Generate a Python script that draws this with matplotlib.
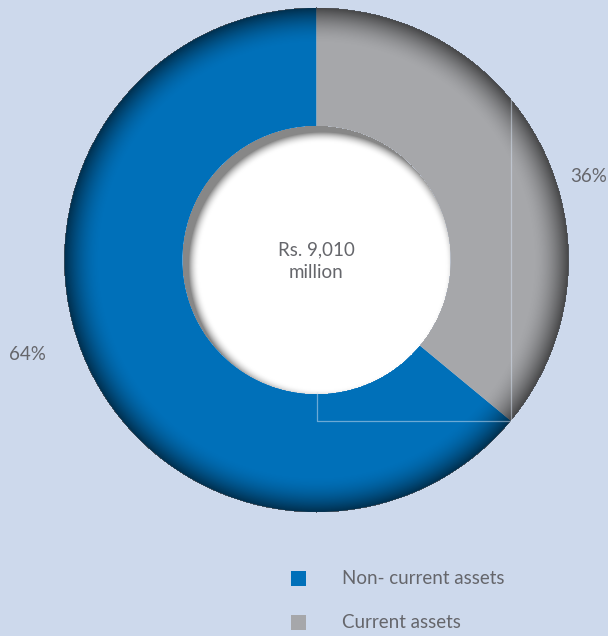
import numpy as np
import matplotlib
matplotlib.use("Agg")
import matplotlib.pyplot as plt
from matplotlib.patches import Rectangle

labels = ["Non- current assets", "Current assets"]
values = [64, 36]
colors = ["#0070b9", "#a6a7aa"]
pct_labels = ["64%", "36%"]
center_text = "Rs. 9,010\nmillion"

W, H = 608, 636
BG = "#cdd9ec"
TXT = "#65666b"
FONT = "Lato"
FS = 13.5

fig = plt.figure(figsize=(W / 100, H / 100), dpi=100, facecolor=BG)
ax = fig.add_axes([0, 0, 1, 1])

cx, cy_pix = 316.5, 260
cy = H - cy_pix
R, r_in = 252, 134

ax.pie(values, colors=colors, startangle=90, counterclock=True,
       center=(cx, cy), radius=R, frame=True,
       wedgeprops=dict(width=R - r_in, linewidth=0))

# shading overlay (outer edge darkening + inner inset shadow)
yy, xx = np.mgrid[0:H, 0:W] + 0.5
yy_up = H - yy
d = np.hypot(xx - cx, yy_up - cy)
ov = np.zeros((H, W, 4))
w = 36
t = np.clip((d - (R - w)) / w, 0, 1)
ring = (d <= R + 0.5) & (d >= r_in)
ov[..., 3] = np.where(ring, 0.58 * t ** 1.8, 0)

hole = d < r_in
sx, sy = cx + 6, cy - 6
ds = r_in - np.hypot(xx - sx, yy_up - sy)
s = np.clip(1 - ds / 11, 0, 1) ** 2
gray = 1 - 0.47 * s
hole_rgba = np.zeros((H, W, 4))
hole_rgba[..., 0] = gray
hole_rgba[..., 1] = gray
hole_rgba[..., 2] = gray
hole_rgba[..., 3] = hole.astype(float)
ax.imshow(ov, extent=(0, W, 0, H), origin="upper", zorder=3, interpolation="bilinear")
ax.imshow(hole_rgba, extent=(0, W, 0, H), origin="upper", zorder=4, interpolation="bilinear")

ax.set_xlim(0, W)
ax.set_ylim(0, H)
ax.set_aspect("equal")
ax.axis("off")

# faint guide lines
ang = np.deg2rad(90 - 360 * values[1] / 100)
ex = cx + R * np.cos(ang)
ey = cy + R * np.sin(ang)
top_y = cy + np.sqrt(R ** 2 - (ex - cx) ** 2)
ax.plot([cx, cx, ex, ex], [cy - r_in + 2, ey, ey, top_y], color="#d6e2f2",
        lw=0.9, alpha=0.5, zorder=5)

kw = dict(fontsize=FS, color=TXT, family=FONT, fontweight="normal")
# center text
l1, l2 = center_text.split("\n")
ax.text(cx, H - 250, l1, ha="center", va="center", zorder=6, **kw)
ax.text(cx, H - 273, l2, ha="center", va="center", zorder=6, **kw)

# percentage labels
ax.text(27, H - 354, pct_labels[0], ha="center", va="center", **kw)
ax.text(589, H - 177, pct_labels[1], ha="center", va="center", **kw)

# legend
leg_y = [578, 622]
for lab, col, y in zip(labels, colors, leg_y):
    ax.add_patch(Rectangle((291, H - y - 7.5), 15, 15, color=col, lw=0))
    ax.text(342, H - y, lab, ha="left", va="center", **kw)

fig.savefig("out.png", dpi=100, facecolor=BG)
